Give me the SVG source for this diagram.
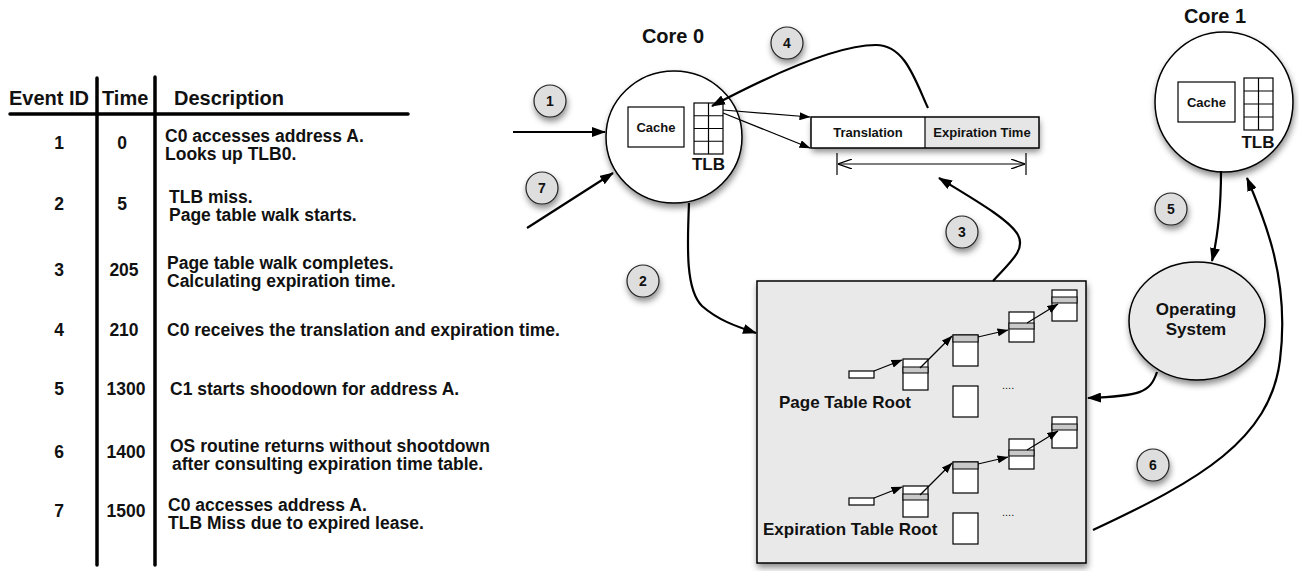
<svg xmlns="http://www.w3.org/2000/svg" xmlns:xlink="http://www.w3.org/1999/xlink" width="1299" height="571" viewBox="0 0 1299 571">
<style>
text{font-family:"Liberation Sans",Arial,Helvetica,sans-serif;font-weight:bold;fill:#111}
.hd{font-size:20px}
.rw{font-size:17.5px}
.ce{text-anchor:middle}
.tl{stroke:#000;stroke-width:3.5;stroke-linecap:round;fill:none}
.nd{fill:#fff;stroke:#000;stroke-width:1.5}
.gr{fill:#e9e9e9;stroke:#000;stroke-width:1.5}
.bx{fill:#fff;stroke:#000;stroke-width:1.2}
.st{fill:#c9c9c9;stroke:#000;stroke-width:1}
.num{fill:#dedede;stroke:#222;stroke-width:1.2}
.nt{font-size:14px;text-anchor:middle}
.thk{fill:none;stroke:#000;stroke-width:2.2;marker-end:url(#ah)}
.thn{fill:none;stroke:#000;stroke-width:1.2;marker-end:url(#as)}
.grid{fill:none;stroke:#000;stroke-width:1.2}
</style>
<defs>
<filter id="sh" x="-30%" y="-30%" width="160%" height="170%">
<feDropShadow dx="1" dy="4" stdDeviation="3" flood-color="#000" flood-opacity="0.45"/>
</filter>
<marker id="ah" viewBox="0 0 14 10" refX="13" refY="5" markerWidth="14" markerHeight="10" markerUnits="userSpaceOnUse" orient="auto">
<path d="M0,0 L14,5 L0,10 z" fill="#000"/>
</marker>
<marker id="as" viewBox="0 0 11 8" refX="10.5" refY="4" markerWidth="11" markerHeight="8" markerUnits="userSpaceOnUse" orient="auto">
<path d="M0,0 L11,4 L0,8 z" fill="#000"/>
</marker>
<marker id="op" viewBox="0 0 14 10" refX="14" refY="5" markerWidth="14" markerHeight="10" markerUnits="userSpaceOnUse" orient="auto-start-reverse">
<path d="M0,0 L14,5 L0,10" fill="none" stroke="#000" stroke-width="1.2"/>
</marker>
<g id="tree">
<rect class="bx" x="849" y="371" width="25" height="7"/>
<rect class="bx" x="903" y="359" width="25" height="31"/>
<rect class="st" x="903" y="367" width="25" height="6"/>
<rect class="bx" x="953" y="335" width="25" height="31"/>
<rect class="st" x="953" y="335" width="25" height="7"/>
<rect class="bx" x="1009" y="312" width="25" height="30"/>
<rect class="st" x="1009" y="323" width="25" height="6"/>
<rect class="bx" x="1052" y="290" width="25" height="31"/>
<rect class="st" x="1052" y="297" width="25" height="6"/>
<rect class="bx" x="953" y="386" width="25" height="31"/>
<text x="1002" y="389" style="font-size:11px;font-weight:normal">....</text>
<path class="thn" d="M874,371 L902,360"/>
<path class="thn" d="M920,368 L952,336"/>
<path class="thn" d="M978,337 L1008,330"/>
<path class="thn" d="M1027,323 L1058,304"/>
</g>
</defs>

<g id="table">
<path class="tl" d="M10,114 L408,114"/>
<path class="tl" d="M97,78 L97,565"/>
<path class="tl" d="M155,77 L155,565"/>
<text class="hd" x="9" y="105">Event ID</text>
<text class="hd" x="102" y="105">Time</text>
<text class="hd" x="174" y="105">Description</text>

<text class="rw ce" x="59" y="149">1</text>
<text class="rw ce" x="122" y="149">0</text>
<text class="rw" x="165" y="142">C0 accesses address A.</text>
<text class="rw" x="165" y="160">Looks up TLB0.</text>

<text class="rw ce" x="59" y="210">2</text>
<text class="rw ce" x="122" y="210">5</text>
<text class="rw" x="169" y="203">TLB miss.</text>
<text class="rw" x="169" y="221">Page table walk starts.</text>

<text class="rw ce" x="59" y="276">3</text>
<text class="rw ce" x="124" y="276">205</text>
<text class="rw" x="167" y="269">Page table walk completes.</text>
<text class="rw" x="167" y="287">Calculating expiration time.</text>

<text class="rw ce" x="59" y="336">4</text>
<text class="rw ce" x="124" y="336">210</text>
<text class="rw" x="167" y="336">C0 receives the translation and expiration time.</text>

<text class="rw ce" x="59" y="395">5</text>
<text class="rw ce" x="126" y="395">1300</text>
<text class="rw" x="170" y="395">C1 starts shoodown for address A.</text>

<text class="rw ce" x="59" y="458">6</text>
<text class="rw ce" x="126" y="458">1400</text>
<text class="rw" x="170" y="452">OS routine returns without shootdown</text>
<text class="rw" x="172" y="470">after consulting expiration time table.</text>

<text class="rw ce" x="59" y="517">7</text>
<text class="rw ce" x="126" y="517">1500</text>
<text class="rw" x="168" y="511">C0 accesses address A.</text>
<text class="rw" x="168" y="529">TLB Miss due to expired lease.</text>
</g>

<g id="page-table">
<rect class="gr" x="757" y="281" width="329" height="282" filter="url(#sh)"/>
<use xlink:href="#tree"/>
<use xlink:href="#tree" y="127"/>
<text x="779" y="408" style="font-size:17px">Page Table Root</text>
<text x="763" y="535" style="font-size:17px">Expiration Table Root</text>
</g>

<g id="core0">
<text class="ce" x="673" y="43" style="font-size:20px">Core 0</text>
<ellipse class="nd" cx="674" cy="137" rx="68" ry="66" filter="url(#sh)"/>
<rect class="bx" x="628" y="107" width="56" height="40"/>
<text class="ce" x="656" y="132" style="font-size:13px">Cache</text>
<rect class="grid" x="694" y="103" width="29" height="51"/>
<path class="grid" d="M708.5,103 V154 M694,115.75 H723 M694,128.5 H723 M694,141.25 H723"/>
<text class="ce" x="708.5" y="170" style="font-size:17px">TLB</text>
</g>

<g id="core1">
<text class="ce" x="1215" y="23" style="font-size:20px">Core 1</text>
<ellipse class="nd" cx="1224" cy="102" rx="69" ry="70" filter="url(#sh)"/>
<rect class="bx" x="1178" y="82" width="57" height="40"/>
<text class="ce" x="1206.5" y="107" style="font-size:13px">Cache</text>
<rect class="grid" x="1244" y="78" width="29" height="52"/>
<path class="grid" d="M1258.5,78 V130 M1244,91 H1273 M1244,104 H1273 M1244,117 H1273"/>
<text class="ce" x="1258" y="148" style="font-size:17px">TLB</text>
</g>

<g id="entry">
<rect x="811" y="117" width="228" height="31" fill="#fff" filter="url(#sh)"/>
<rect x="925" y="117" width="114" height="31" fill="#e6e6e6"/>
<rect x="811" y="117" width="228" height="31" fill="none" stroke="#000" stroke-width="1.5"/>
<path d="M925,117 V148" stroke="#000" stroke-width="1.2"/>
<text class="ce" x="868" y="137" style="font-size:13px">Translation</text>
<text class="ce" x="982" y="137" style="font-size:13px">Expiration Time</text>
<path d="M837,153 V175 M1026,153 V175" stroke="#000" stroke-width="1.2"/>
<path d="M838,164 H1025" stroke="#000" stroke-width="1.2" fill="none" marker-start="url(#op)" marker-end="url(#op)"/>
</g>

<g id="os">
<ellipse class="gr" cx="1197" cy="321" rx="68" ry="59" filter="url(#sh)"/>
<text class="ce" x="1196" y="315" style="font-size:17px">Operating</text>
<text class="ce" x="1196" y="335" style="font-size:17px">System</text>
</g>

<g id="connectors">
<path class="thk" d="M513,132 L605,132"/>
<path class="thk" d="M527,228 L613,173"/>
<path class="thk" d="M928,108 C915,80 905,45 876,45 C840,45 780,70 712,106"/>
<path class="thn" d="M723,110 L810,117"/>
<path class="thn" d="M723,113 L810,148"/>
<path class="thk" d="M689,203 C687,250 686,290 702,306 C718,320 735,326 756,333"/>
<path class="thk" d="M993,281 C1010,262 1026,250 1018,235 C1010,220 975,200 939,178"/>
<path class="thk" d="M1221,171 C1221,210 1217,240 1212,261"/>
<path class="thk" d="M1157,372 C1150,393 1140,396 1088,398"/>
<path class="thk" d="M1093,530 C1200,480 1270,440 1280,360 C1290,280 1265,220 1247,178"/>
</g>

<g id="labels" filter="url(#sh)">
<circle class="num" cx="550" cy="101" r="16"/>
<circle class="num" cx="643" cy="281" r="16"/>
<circle class="num" cx="962" cy="232" r="16"/>
<circle class="num" cx="787" cy="43" r="16"/>
<circle class="num" cx="1171" cy="209" r="16"/>
<circle class="num" cx="1153" cy="465" r="16"/>
<circle class="num" cx="542" cy="188" r="16"/>
</g>
<g id="label-text">
<text class="nt" x="550" y="106">1</text>
<text class="nt" x="643" y="286">2</text>
<text class="nt" x="962" y="237">3</text>
<text class="nt" x="787" y="48">4</text>
<text class="nt" x="1171" y="214">5</text>
<text class="nt" x="1153" y="470">6</text>
<text class="nt" x="542" y="193">7</text>
</g>
</svg>
